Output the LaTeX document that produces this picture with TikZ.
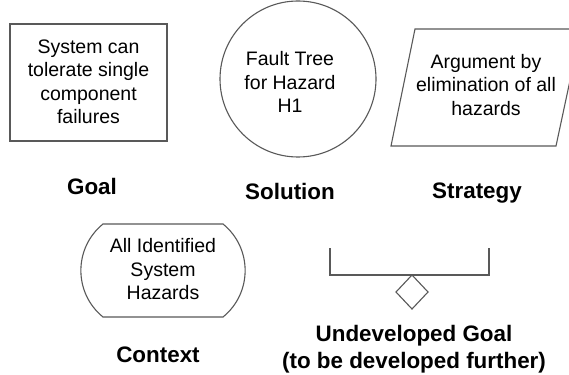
\documentclass[tikz,border=0pt]{standalone}
\usepackage{fontspec}
\setmainfont{Liberation Sans}
\begin{document}
\begin{tikzpicture}[x=1pt,y=-1pt,
  shapeline/.style={draw=black!65, line width=1.1pt},
  bodytext/.style={align=center, inner sep=0pt, font=\fontsize{19.5}{23.5}\selectfont},
  kindlabel/.style={anchor=base, inner sep=0pt, align=center, font=\bfseries\fontsize{22.4}{26.5}\selectfont}]
\useasboundingbox[fill=white] (0,0) rectangle (569,374);
% Goal
\draw[shapeline] (10,24) rectangle (167,141);
\node[bodytext] (goaltext) at (88.5,82) {System can\\tolerate single\\component\\failures};
\node[kindlabel] (goallabel) at (92,194) {Goal};
% Solution
\draw[shapeline] (298,79) circle[radius=78];
\node[bodytext] (soltext) at (290,82) {Fault Tree\\for Hazard\\H1};
\node[kindlabel] (sollabel) at (290,199) {Solution};
% Strategy
\draw[shapeline] (415,29) -- (581,29) -- (556,146) -- (391,146) -- cycle;
\node[bodytext] (strattext) at (486,85) {Argument by\\elimination of all\\hazards};
\node[kindlabel] (stratlabel) at (477,198) {Strategy};
% Context
\draw[shapeline] (103,224) -- (223,224)
  .. controls (252.5,248) and (252.5,293) .. (223,317)
  -- (103,317)
  .. controls (73.5,293) and (73.5,248) .. (103,224) -- cycle;
\node[bodytext] (ctxtext) at (163,269.5) {All Identified\\System\\Hazards};
\node[kindlabel] (ctxlabel) at (158,362) {Context};
% Undeveloped goal
\coordinate (bl) at (330,248);
\coordinate (br) at (489,248);
\coordinate (dtop) at (412,275);
\draw[shapeline] (bl) -- (330,275) -- (489,275) -- (br);
\draw[shapeline] (dtop) -- (428,292) -- (412,309) -- (396,292) -- cycle;
\node[kindlabel] (undevlabel) at (414,368) {Undeveloped Goal\\(to be developed further)};
\end{tikzpicture}
\end{document}
